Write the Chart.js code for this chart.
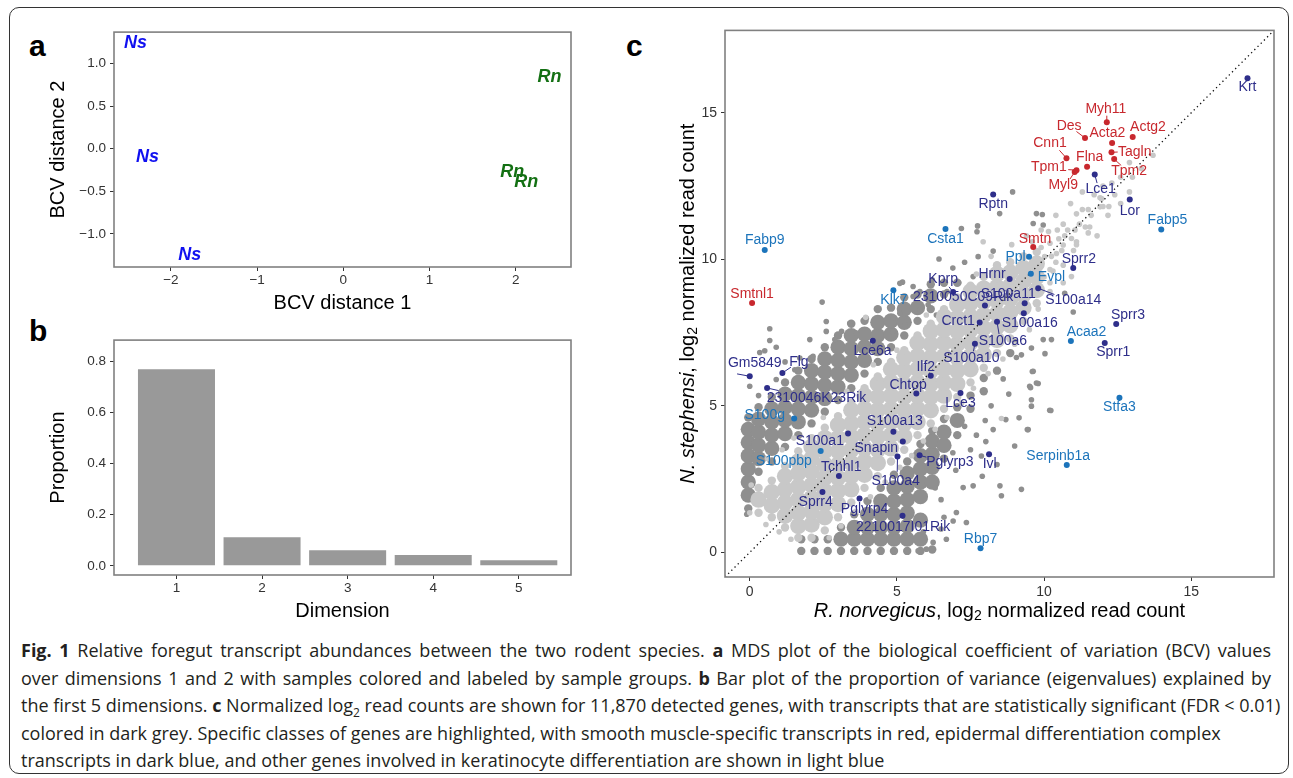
<!DOCTYPE html>
<html>
<head>
<meta charset="utf-8">
<script src="https://cdn.jsdelivr.net/npm/chart.js@4.4.0/dist/chart.umd.min.js"></script>
<style>
body { margin: 0; background: #fff; width: 1293px; height: 778px; overflow: hidden; position: relative; font-family: "Liberation Sans", Arial, sans-serif; }
.box { position: absolute; left: 9px; top: 7px; width: 1280px; height: 767px; border: 1.5px solid #333; border-radius: 10px; box-sizing: border-box; }
.cv { position: absolute; }
.tag { position: absolute; font-weight: bold; font-size: 30px; line-height: 1; color: #000; }
.cap { position: absolute; left: 21px; top: 637px; font-family: "Open Sans", sans-serif; font-size: 18px; color: #231f20; white-space: nowrap; }
.cap div { height: 27.5px; line-height: 27.5px; }
.cap .j { width: 1250px; text-align: justify; text-align-last: justify; }
</style>
</head>
<body>
<div class="box"></div>
<div class="tag" style="left:29px;top:31px">a</div>
<div class="tag" style="left:29px;top:316px">b</div>
<div class="tag" style="left:626px;top:31px">c</div>
<div class="cv" style="left:20px;top:20px;width:560px;height:300px"><canvas id="mds"></canvas></div>
<div class="cv" style="left:20px;top:328px;width:560px;height:300px"><canvas id="eig"></canvas></div>
<div class="cv" style="left:620px;top:18px;width:665px;height:612px"><canvas id="counts"></canvas></div>
<div class="cap">
<div class="j"><b>Fig. 1</b> Relative foregut transcript abundances between the two rodent species. <b>a</b> MDS plot of the biological coefficient of variation (BCV) values</div>
<div class="j">over dimensions 1 and 2 with samples colored and labeled by sample groups. <b>b</b> Bar plot of the proportion of variance (eigenvalues) explained by</div>
<div>the first 5 dimensions. <b>c</b> Normalized log<sub style="font-size:12px">2</sub> read counts are shown for 11,870 detected genes, with transcripts that are statistically significant (FDR &lt; 0.01)</div>
<div>colored in dark grey. Specific classes of genes are highlighted, with smooth muscle-specific transcripts in red, epidermal differentiation complex</div>
<div>transcripts in dark blue, and other genes involved in keratinocyte differentiation are shown in light blue</div>
</div>
<script>
// panel a: MDS samples
const sampleGroup = ['Ns', 'Ns', 'Ns', 'Rn', 'Rn', 'Rn'];
const bcv1 = [-2.41, -2.27, -1.78, 2.39, 1.96, 2.12];
const bcv2 = [1.24, -0.10, -1.25, 0.84, -0.28, -0.39];

// panel b: variance explained
const dims = [1, 2, 3, 4, 5];
const propVar = [0.770, 0.112, 0.061, 0.042, 0.022];

// panel c: highlighted genes (log2 counts, R. norvegicus / N. stephensi)
const geneNames = ['Myh11', 'Des', 'Acta2', 'Actg2', 'Cnn1', 'Flna', 'Tagln', 'Tpm2', 'Tpm1', 'Myl9', 'Smtn', 'Smtnl1',
  'Krt', 'Lce1', 'Rptn', 'Lor', 'Sprr2', 'S100a14', 'Sprr3', 'Sprr1', 'Hrnr', 'Kprp', '2310050C09Rik', 'S100a11',
  'S100a16', 'Crct1', 'S100a6', 'S100a10', 'Lce6a', 'Gm5849', 'Flg', '2310046K23Rik', 'Ilf2', 'Chtop', 'Lce3',
  'S100a13', 'S100a1', 'Snapin', 'Tchhl1', 'Pglyrp3', 'Ivl', 'S100a4', 'Sprr4', 'Pglyrp4', '2210017I01Rik',
  'Fabp5', 'Ppl', 'Evpl', 'Acaa2', 'Stfa3', 'Csta1', 'Klk7', 'Fabp9', 'S100g', 'S100pbp', 'Serpinb1a', 'Rbp7'];
const geneX = [12.13, 11.39, 12.31, 13.01, 10.76, 11.46, 12.29, 12.38, 11.10, 11.04, 9.63, 0.08,
  16.91, 11.72, 8.27, 12.91, 10.99, 9.80, 12.45, 12.06, 8.83, 6.91, 7.99, 9.34,
  9.31, 7.81, 8.40, 7.65, 4.18, 0.00, 1.11, 0.59, 6.15, 5.66, 7.16,
  4.88, 3.34, 5.20, 3.03, 5.77, 8.13, 5.02, 2.47, 3.73, 5.19,
  13.98, 9.49, 9.55, 10.91, 12.56, 6.65, 4.88, 0.51, 1.51, 2.41, 10.77, 7.84];
const geneY = [14.68, 14.14, 13.97, 14.17, 13.45, 13.16, 13.65, 13.42, 13.04, 12.98, 10.42, 8.51,
  16.18, 12.89, 12.21, 12.04, 9.70, 9.01, 7.79, 7.14, 9.33, 8.88, 8.42, 8.50,
  8.16, 7.84, 7.87, 7.12, 7.22, 6.01, 6.12, 5.61, 6.03, 5.42, 5.44,
  4.12, 4.06, 3.78, 2.61, 3.31, 3.35, 3.27, 2.06, 1.84, 1.25,
  11.02, 10.09, 9.51, 7.21, 5.28, 11.03, 8.94, 10.32, 4.57, 3.46, 2.98, 0.14];
const geneGroup = ['sm', 'sm', 'sm', 'sm', 'sm', 'sm', 'sm', 'sm', 'sm', 'sm', 'sm', 'sm',
  'edc', 'edc', 'edc', 'edc', 'edc', 'edc', 'edc', 'edc', 'edc', 'edc', 'edc', 'edc',
  'edc', 'edc', 'edc', 'edc', 'edc', 'edc', 'edc', 'edc', 'edc', 'edc', 'edc',
  'edc', 'edc', 'edc', 'edc', 'edc', 'edc', 'edc', 'edc', 'edc', 'edc',
  'kd', 'kd', 'kd', 'kd', 'kd', 'kd', 'kd', 'kd', 'kd', 'kd', 'kd', 'kd'];

// non-highlighted genes: significant (dark) and not (light), read off the cloud
const lightCore = [
  [0.3, [1.35, 1.8, 2.2]], [0.75, [1.2, 1.6, 2.05, 2.45]], [1.2, [0.85, 1.25, 1.7, 2.15, 2.6, 2.95]],
  [1.65, [0.5, 0.9, 1.35, 1.8, 2.25, 2.7, 3.1, 3.45]], [2.1, [0.5, 0.95, 1.4, 1.85, 2.3, 2.75, 3.2, 3.6, 3.9]],
  [2.55, [0.75, 1.2, 1.65, 2.1, 2.55, 3.0, 3.45, 3.9, 4.25]], [3.0, [1.2, 1.65, 2.1, 2.55, 3.0, 3.45, 3.9, 4.35, 4.65]],
  [3.45, [1.7, 2.15, 2.6, 3.05, 3.5, 3.95, 4.4, 4.85, 5.1]], [3.9, [2.2, 2.65, 3.1, 3.55, 4.0, 4.45, 4.9, 5.35, 5.6]],
  [4.35, [2.6, 3.05, 3.5, 3.95, 4.4, 4.85, 5.3, 5.75, 6.0]], [4.8, [3.1, 3.55, 4.0, 4.45, 4.9, 5.35, 5.8, 6.25, 6.5]],
  [5.25, [3.5, 3.95, 4.4, 4.85, 5.3, 5.75, 6.2, 6.65, 6.9]], [5.7, [4.0, 4.45, 4.9, 5.35, 5.8, 6.25, 6.7, 7.15, 7.4]],
  [6.15, [4.4, 4.85, 5.3, 5.75, 6.2, 6.65, 7.1, 7.55, 7.8]], [6.6, [4.9, 5.35, 5.8, 6.25, 6.7, 7.15, 7.6, 8.05, 8.3]],
  [7.05, [5.3, 5.75, 6.2, 6.65, 7.1, 7.55, 8.0, 8.45, 8.7]], [7.5, [5.8, 6.25, 6.7, 7.15, 7.6, 8.05, 8.5, 8.9, 9.1]],
  [7.95, [6.3, 6.75, 7.2, 7.65, 8.1, 8.55, 9.0, 9.4]], [8.4, [6.8, 7.25, 7.7, 8.15, 8.6, 9.05, 9.5, 9.8]],
  [8.85, [7.3, 7.75, 8.2, 8.65, 9.1, 9.55, 9.9]], [9.3, [7.9, 8.35, 8.8, 9.25, 9.7, 10.1]],
  [9.75, [8.5, 8.95, 9.4, 9.85, 10.25]]
];
const lightSparse = [
  [0.0, 1.35], [0.05, 2.3], [0.55, 0.95], [1.0, 0.7], [1.4, 0.45], [0.6, 3.2], [1.1, 3.5], [1.5, 3.9], [2.5, 4.6],
  [3.3, 5.5], [4.2, 6.4], [5.0, 6.9], [6.0, 8.1], [6.9, 8.7], [7.7, 9.5], [8.2, 10.1], [8.9, 10.5], [9.4, 10.8],
  [9.9, 11.0], [10.4, 11.5], [10.9, 11.9], [11.3, 12.3], [11.6, 11.5], [11.9, 12.1], [12.2, 11.8], [12.17, 11.5],
  [11.2, 11.2], [11.5, 10.9], [11.8, 10.8], [12.4, 12.2], [12.6, 11.9], [13.0, 12.8], [13.7, 13.55], [13.3, 13.1],
  [10.93, 10.71], [10.65, 10.49], [10.42, 10.2], [10.02, 10.09], [10.93, 9.41], [10.65, 9.2], [10.2, 8.9],
  [9.8, 8.3], [9.5, 7.6], [9.0, 7.1], [8.6, 6.6], [8.1, 6.1], [7.6, 5.6], [7.2, 5.1], [6.7, 4.6], [6.3, 4.2],
  [5.9, 3.8], [5.5, 3.3], [5.1, 2.9], [4.6, 2.4], [4.1, 1.9], [3.6, 1.4], [3.1, 0.9], [2.7, 0.5], [3.94, 8.02],
  [7.93, 10.6], [8.55, 4.57], [11.95, 12.07], [11.9, 11.79], [12.9, 12.3], [11.1, 10.6], [12.3, 12.6],
  [10.2, 9.2], [10.2, 9.65], [10.25, 10.1], [10.2, 10.55], [10.15, 10.95], [10.65, 9.8], [10.6, 10.3],
  [10.7, 10.8], [10.65, 11.2], [11.1, 10.5], [11.05, 11.0], [11.1, 11.55], [11.55, 11.1], [11.5, 11.7],
  [12.0, 11.8], [10.0, 9.4], [10.4, 9.9], [10.5, 10.7], [10.8, 11.0], [11.0, 10.3], [11.3, 11.7], [11.7, 12.2],
  [12.0, 12.5], [11.4, 11.1], [10.3, 9.6], [9.6, 10.6], [9.9, 10.4], [10.45, 11.0], [12.6, 12.8], [12.9, 13.3]
];
const darkCore = [
  [-0.05, [1.5, 1.95, 2.4, 2.85, 3.3, 3.75, 4.2, 4.6]], [0.3, [2.75, 3.2, 3.65, 4.1, 4.55, 4.95]],
  [0.75, [3.1, 3.55, 4.0, 4.45, 4.9, 5.3]], [1.2, [3.6, 4.05, 4.5, 4.95, 5.4, 5.8]],
  [1.65, [4.0, 4.45, 4.9, 5.35, 5.8, 6.2]], [2.1, [4.4, 4.85, 5.3, 5.75, 6.2, 6.6]],
  [2.55, [4.8, 5.25, 5.7, 6.15, 6.6, 7.0]], [3.0, [5.2, 5.65, 6.1, 6.55, 7.0, 7.4]],
  [3.45, [5.6, 6.05, 6.5, 6.95, 7.4, 7.8]], [3.9, [6.1, 6.55, 7.0, 7.45, 7.9]],
  [4.35, [6.5, 6.95, 7.4, 7.85, 8.3]], [4.8, [7.0, 7.45, 7.9, 8.35]], [5.25, [7.4, 7.85, 8.3, 8.7]],
  [5.7, [7.9, 8.35, 8.8]], [6.15, [8.3, 8.75, 9.15]], [6.6, [8.8, 9.2]], [7.05, [9.2]],
  [1.75, [0.05, 0.45]], [2.2, [0.05, 0.45]], [2.65, [0.05, 0.45]], [3.1, [0.05, 0.45, 0.85]],
  [3.55, [0.05, 0.45, 0.85, 1.3]], [4.0, [0.05, 0.45, 0.85, 1.3, 1.75]], [4.45, [0.05, 0.45, 0.85, 1.3, 1.75, 2.2]],
  [4.9, [0.05, 0.45, 0.85, 1.3, 1.75, 2.2, 2.65]], [5.35, [0.05, 0.45, 0.9, 1.35, 1.8, 2.25, 2.7, 3.1]],
  [5.8, [0.05, 0.45, 1.1, 1.9, 2.4, 2.85, 3.3, 3.7]], [6.2, [0.1, 2.4, 2.9, 3.35, 3.8, 4.15]],
  [6.6, [3.2, 3.65, 4.1, 4.55]], [7.05, [4.0, 4.5, 4.95]], [7.5, [4.9, 5.35]], [7.95, [5.5, 5.95]],
  [8.4, [6.2]], [8.85, [6.8]]
];
const darkSparse = [
  [6.43, 10.01], [5.19, 9.22], [2.46, 8.54], [0.68, 7.63], [0.68, 7.23], [2.6, 7.88], [2.6, 7.54], [0.34, 6.82],
  [0.51, 6.88], [2.04, 7.26], [2.89, 7.26], [3.12, 7.54], [3.62, 7.48], [1.7, 6.63], [2.15, 6.69], [1.53, 6.23],
  [0.0, 5.67], [3.62, 6.97], [3.96, 7.09], [4.3, 7.14], [4.87, 7.99], [5.1, 8.16], [5.78, 8.28], [6.06, 8.45],
  [6.34, 8.1], [5.55, 8.73], [5.78, 8.9], [4.87, 7.54], [5.27, 7.77], [5.1, 9.18], [5.55, 9.07], [5.66, 8.79],
  [3.4, 7.82], [3.96, 7.99], [7.19, 11.05], [7.74, 11.14], [7.72, 10.94], [8.27, 10.28], [7.76, 10.09],
  [8.49, 11.56], [8.93, 12.3], [9.63, 11.22], [9.74, 11.56], [9.97, 11.17], [7.59, 9.41], [9.94, 11.53],
  [6.2, 9.3], [6.9, 9.7], [7.3, 9.9], [7.1, 9.2], [6.7, 8.9], [0.9, 5.9], [0.3, 5.35], [1.2, 6.5], [0.9, 7.0],
  [-0.1, 1.3], [9.63, 6.18], [9.51, 5.67], [9.74, 5.78], [9.57, 5.21], [10.23, 4.84], [9.15, 4.59], [9.43, 4.19],
  [9.23, 2.15], [8.5, 2.27], [8.55, 1.93], [8.02, 3.78], [7.87, 3.29], [9.0, 3.63], [8.27, 4.19], [8.7, 4.53],
  [7.59, 2.27], [7.25, 2.21], [7.02, 1.36], [6.91, 1.07], [7.36, 1.02], [6.68, 0.45], [6.0, 0.11], [5.72, 0.05],
  [6.23, 0.34], [10.7, 8.84], [10.99, 8.2], [9.97, 7.26], [10.25, 7.26], [10.03, 6.78], [9.57, 6.97],
  [9.23, 6.74], [9.06, 6.65], [9.6, 6.17], [8.61, 5.92], [9.8, 5.76], [9.54, 5.62], [9.57, 4.99], [10.19, 4.85],
  [9.46, 4.19], [9.0, 7.2], [8.8, 5.4], [8.2, 5.0], [8.0, 4.5], [7.7, 4.0], [7.5, 3.5], [6.5, 1.8], [6.3, 2.2],
  [7.0, 2.8], [7.9, 2.6], [6.6, 1.2], [6.9, 3.4], [7.3, 4.3], [8.4, 3.0], [6.5, 0.8], [5.9, 0.7]
];
const countTicks = [0, 5, 10, 15];

// where each gene label sits (label x, y, and optional end of leader line)
const labelAt = {
  'Myh11': [12.1, 15.13, 12.13, 14.9], 'Des': [10.85, 14.54, 11.1, 14.36], 'Acta2': [12.15, 14.29],
  'Actg2': [13.53, 14.51], 'Cnn1': [10.2, 13.95, 10.52, 13.72], 'Flna': [11.55, 13.49],
  'Tagln': [13.08, 13.66, 12.5, 13.66], 'Tpm2': [12.89, 13.0, 12.62, 13.2], 'Tpm1': [10.16, 13.13, 10.82, 13.06],
  'Myl9': [10.65, 12.53, 10.88, 12.74], 'Smtn': [9.69, 10.69], 'Smtnl1': [0.08, 8.81],
  'Krt': [16.91, 15.87], 'Lce1': [11.92, 12.39, 11.8, 12.6], 'Rptn': [8.27, 11.87], 'Lor': [12.91, 11.65],
  'Sprr2': [11.18, 10.0], 'S100a14': [10.99, 8.59, 10.35, 8.8], 'Sprr3': [12.85, 8.1], 'Sprr1': [12.35, 6.84],
  'Hrnr': [8.23, 9.49], 'Kprp': [6.57, 9.33, 6.77, 9.06], '2310050C09Rik': [7.25, 8.71], 'S100a11': [8.78, 8.82],
  'S100a16': [9.51, 7.82], 'Crct1': [7.08, 7.9], 'S100a6': [8.6, 7.22, 8.47, 7.45], 'S100a10': [7.53, 6.63, 7.6, 6.86],
  'Lce6a': [4.17, 6.88], 'Gm5849': [0.17, 6.45, -0.43, 6.09], 'Flg': [1.67, 6.48, 1.4, 6.32],
  '2310046K23Rik': [2.27, 5.27, 0.98, 5.52], 'Ilf2': [5.98, 6.33], 'Chtop': [5.38, 5.72], 'Lce3': [7.16, 5.1],
  'S100a13': [4.93, 4.48], 'S100a1': [2.38, 3.78], 'Snapin': [4.3, 3.54], 'Tchhl1': [3.11, 2.92],
  'Pglyrp3': [6.8, 3.08, 6.0, 3.25], 'Ivl': [8.15, 3.0], 'S100a4': [4.96, 2.44, 5.01, 2.75], 'Sprr4': [2.24, 1.7],
  'Pglyrp4': [3.9, 1.47], '2210017I01Rik': [5.21, 0.85], 'Fabp5': [14.19, 11.34], 'Ppl': [9.03, 10.09],
  'Evpl': [10.25, 9.39], 'Acaa2': [11.44, 7.52], 'Stfa3': [12.56, 4.94], 'Csta1': [6.65, 10.69], 'Klk7': [4.9, 8.6],
  'Fabp9': [0.51, 10.66], 'S100g': [0.51, 4.67], 'S100pbp': [1.16, 3.1], 'Serpinb1a': [10.48, 3.29], 'Rbp7': [7.84, 0.45]
};

const FONT = '"Liberation Sans", Arial, sans-serif';
Chart.defaults.font.family = FONT;
Chart.defaults.color = '#333';

const groupColor = { sm: '#c8282e', edc: '#2e2e8a', kd: '#1c74bb' };
const sampleColor = { Ns: '#1010f0', Rn: '#137013' };

const minus = v => (v < 0 ? '\u2212' : '') + Math.abs(v);
const fixed1 = v => (v < 0 ? '\u2212' : '') + Math.abs(v).toFixed(1);

function tickGrid() {
  return { offset: false, drawOnChartArea: false, drawTicks: true, tickLength: 4, tickColor: '#333', color: '#333' };
}

const framePlugin = {
  id: 'frame',
  afterDatasetsDraw(chart) {
    const a = chart.chartArea, ctx = chart.ctx;
    ctx.save();
    ctx.strokeStyle = '#808080';
    ctx.lineWidth = 1.6;
    ctx.strokeRect(a.left, a.top, a.right - a.left, a.bottom - a.top);
    ctx.restore();
  }
};

const sampleLabels = {
  id: 'sampleLabels',
  afterDatasetsDraw(chart) {
    const ctx = chart.ctx, sx = chart.scales.x, sy = chart.scales.y;
    ctx.save();
    ctx.font = 'italic bold 18px ' + FONT;
    ctx.textAlign = 'center';
    ctx.textBaseline = 'middle';
    sampleGroup.forEach((g, i) => {
      ctx.fillStyle = sampleColor[g];
      ctx.fillText(g, sx.getPixelForValue(bcv1[i]), sy.getPixelForValue(bcv2[i]));
    });
    ctx.restore();
  }
};

new Chart(document.getElementById('mds'), {
  type: 'scatter',
  data: { datasets: [{ data: bcv1.map((v, i) => ({ x: v, y: bcv2[i] })), pointRadius: 0 }] },
  options: {
    responsive: true, maintainAspectRatio: false, animation: false, events: [],
    layout: { padding: { top: 11, right: 9, left: 0, bottom: 0 } },
    plugins: { legend: { display: false }, tooltip: { enabled: false } },
    scales: {
      x: {
        type: 'linear', min: -2.66, max: 2.64,
        afterFit: s => { s.height = 53; },
        grid: tickGrid(), border: { display: false },
        ticks: { stepSize: 1, includeBounds: false, padding: 1, font: { size: 13.5 }, color: '#333', callback: minus, maxRotation: 0 },
        title: { display: true, text: 'BCV distance 1', color: '#000', font: { size: 20 }, padding: { top: 0, bottom: 5 } }
      },
      y: {
        type: 'linear', min: -1.39, max: 1.37,
        afterFit: s => { s.width = 94; },
        grid: tickGrid(), border: { display: false },
        ticks: { stepSize: 0.5, includeBounds: false, padding: 4, font: { size: 13.5 }, color: '#333', callback: fixed1 },
        title: { display: true, text: 'BCV distance 2', color: '#000', font: { size: 20 }, padding: { top: 26, bottom: 0 } }
      }
    }
  },
  plugins: [framePlugin, sampleLabels]
});

new Chart(document.getElementById('eig'), {
  type: 'bar',
  data: { datasets: [{ data: dims.map((d, i) => ({ x: d, y: propVar[i] })), backgroundColor: '#999999', barPercentage: 0.9, categoryPercentage: 1.0 }] },
  options: {
    responsive: true, maintainAspectRatio: false, animation: false, events: [],
    layout: { padding: { top: 11, right: 9, left: 0, bottom: 0 } },
    plugins: { legend: { display: false }, tooltip: { enabled: false } },
    scales: {
      x: {
        type: 'linear', min: 0.27, max: 5.61, offset: false,
        afterFit: s => { s.height = 53; },
        afterBuildTicks: s => { s.ticks = dims.map(v => ({ value: v })); },
        grid: tickGrid(), border: { display: false },
        ticks: { padding: 1, font: { size: 13.5 }, color: '#333', maxRotation: 0 },
        title: { display: true, text: 'Dimension', color: '#000', font: { size: 20 }, padding: { top: 0, bottom: 5 } }
      },
      y: {
        type: 'linear', min: -0.036, max: 0.884,
        afterFit: s => { s.width = 94; },
        grid: tickGrid(), border: { display: false },
        ticks: { stepSize: 0.2, includeBounds: false, padding: 4, font: { size: 13.5 }, color: '#333', callback: fixed1 },
        title: { display: true, text: 'Proportion', color: '#000', font: { size: 20 }, padding: { top: 26, bottom: 0 } }
      }
    }
  },
  plugins: [framePlugin]
});

const expand = cols => cols.flatMap(([x, ys]) => ys.map(y => ({ x, y })));
const pairs = list => list.map(([x, y]) => ({ x, y }));
// big dots fill the dense middle of each column, small ones keep the edge ragged
const columnRadius = (cols, r) => cols.flatMap(([x, ys]) => ys.map((y, k) => (k === 0 || k === ys.length - 1) ? 4.2 : r));

function drawRich(ctx, parts, cx, cy, angle) {
  ctx.save();
  ctx.translate(cx, cy);
  ctx.rotate(angle);
  ctx.textBaseline = 'middle';
  ctx.textAlign = 'left';
  ctx.fillStyle = '#000';
  let total = 0;
  parts.forEach(p => { ctx.font = p.font; p.w = ctx.measureText(p.t).width; total += p.w; });
  let x = -total / 2;
  parts.forEach(p => { ctx.font = p.font; ctx.fillText(p.t, x, p.dy || 0); x += p.w; });
  ctx.restore();
}

const geneLabels = {
  id: 'geneLabels',
  afterDatasetsDraw(chart) {
    const ctx = chart.ctx, sx = chart.scales.x, sy = chart.scales.y;
    ctx.save();
    ctx.font = '14px ' + FONT;
    ctx.textAlign = 'center';
    ctx.textBaseline = 'middle';
    geneNames.forEach((name, i) => {
      const pos = labelAt[name];
      if (!pos) return;
      const col = groupColor[geneGroup[i]];
      if (pos.length > 2) {
        ctx.strokeStyle = col;
        ctx.lineWidth = 1;
        ctx.beginPath();
        ctx.moveTo(sx.getPixelForValue(geneX[i]), sy.getPixelForValue(geneY[i]));
        ctx.lineTo(sx.getPixelForValue(pos[2]), sy.getPixelForValue(pos[3]));
        ctx.stroke();
      }
      ctx.fillStyle = col;
      ctx.fillText(name, sx.getPixelForValue(pos[0]), sy.getPixelForValue(pos[1]));
    });
    ctx.restore();
  },
  afterDraw(chart) {
    const a = chart.chartArea, ctx = chart.ctx;
    const it = 'italic 20px ' + FONT, rg = '20px ' + FONT, sb = '14px ' + FONT;
    drawRich(ctx, [{ t: 'R. norvegicus', font: it }, { t: ', log', font: rg }, { t: '2', font: sb, dy: 5 }, { t: ' normalized read count', font: rg }],
      (a.left + a.right) / 2, 593, 0);
    drawRich(ctx, [{ t: 'N. stephensi', font: it }, { t: ', log', font: rg }, { t: '2', font: sb, dy: 5 }, { t: ' normalized read count', font: rg }],
      68, (a.top + a.bottom) / 2, -Math.PI / 2);
  }
};

const axisRange = { min: -0.84, max: 17.81 };

new Chart(document.getElementById('counts'), {
  type: 'scatter',
  data: {
    datasets: [
      { data: geneX.map((v, i) => ({ x: v, y: geneY[i] })), pointRadius: 3, borderWidth: 0,
        backgroundColor: geneGroup.map(g => groupColor[g]) },
      { type: 'line', data: [{ x: axisRange.min, y: axisRange.min }, { x: axisRange.max, y: axisRange.max }],
        showLine: true, pointRadius: 0, borderColor: '#111', borderWidth: 1.3, borderDash: [1.3, 3.2], fill: false },
      { data: pairs(lightSparse), pointRadius: 2.8, borderWidth: 0, backgroundColor: '#c8c8c8' },
      { data: expand(lightCore), pointRadius: columnRadius(lightCore, 8.2), borderWidth: 0, backgroundColor: '#c8c8c8' },
      { data: pairs(darkSparse), pointRadius: 2.8, borderWidth: 0, backgroundColor: '#8f8f8f' },
      { data: expand(darkCore), pointRadius: columnRadius(darkCore, 7.6), borderWidth: 0, backgroundColor: '#8f8f8f' }
    ]
  },
  options: {
    responsive: true, maintainAspectRatio: false, animation: false, events: [],
    layout: { padding: { top: 11, right: 11, left: 0, bottom: 0 } },
    plugins: { legend: { display: false }, tooltip: { enabled: false } },
    scales: {
      x: {
        type: 'linear', min: axisRange.min, max: axisRange.max,
        afterFit: s => { s.height = 53; },
        afterBuildTicks: s => { s.ticks = countTicks.map(v => ({ value: v })); },
        grid: tickGrid(), border: { display: false },
        ticks: { padding: 3, font: { size: 14 }, color: '#333', maxRotation: 0 }
      },
      y: {
        type: 'linear', min: axisRange.min, max: axisRange.max,
        afterFit: s => { s.width = 105; },
        afterBuildTicks: s => { s.ticks = countTicks.map(v => ({ value: v })); },
        grid: tickGrid(), border: { display: false },
        ticks: { padding: 4, font: { size: 14 }, color: '#333' }
      }
    }
  },
  plugins: [framePlugin, geneLabels]
});
</script>
</body>
</html>
